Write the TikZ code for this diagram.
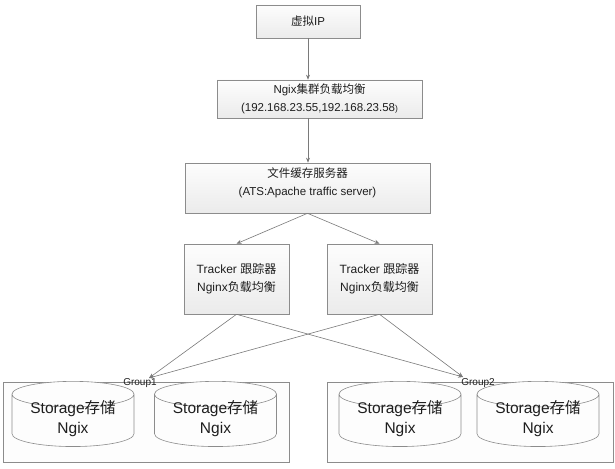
\documentclass[tikz,border=0pt]{standalone}
\usepackage{fontspec}
\setmainfont{Liberation Sans}
\newfontfamily\cjk{Noto Sans CJK SC}
\usetikzlibrary{positioning,arrows.meta,shapes.geometric}
\definecolor{edge}{HTML}{8C8C8C}
\definecolor{wire}{HTML}{7A7A7A}
\definecolor{hi}{HTML}{FDFDFD}
\definecolor{lo}{HTML}{EBEBEB}
\definecolor{ink}{HTML}{1E1E1E}

\begin{document}
\begin{tikzpicture}[
  x=1pt,y=-1pt,
  box/.style={draw=edge,line width=0.6pt,top color=hi,bottom color=lo,
              align=center,text=ink,font=\fontsize{11.5}{18}\selectfont,inner sep=0pt},
  grp/.style={draw=edge,line width=0.6pt,fill=hi,minimum width=286pt,minimum height=80pt,inner sep=0pt},
  glbl/.style={font=\fontsize{10}{12}\selectfont,text=ink,inner sep=1pt},
  store/.style={cylinder,shape border rotate=90,aspect=0.3,draw=edge,line width=0.6pt,
                fill=hi,minimum width=122pt,minimum height=55pt,inner sep=0pt,
                text height=26.5pt,text depth=-26.5pt,
                align=center,text=ink,font=\fontsize{15.5}{20}\selectfont},
  ar/.style={-{Stealth[length=5pt,width=4pt]},draw=wire,line width=0.6pt}
]
\useasboundingbox (0,0) rectangle (615,468);

\node[box,minimum width=104pt,minimum height=33pt] (vip) at (308,21.5) {{\cjk 虚拟}IP};
\node[box,minimum width=205pt,minimum height=38pt] (lb) at (319.5,99)
  {Ngix{\cjk 集群负载均衡}\\(192.168.23.55,192.168.23.58{\fontsize{8.5}{10}\selectfont)}};
\node[box,minimum width=245pt,minimum height=50pt] (ats) at (307.5,188)
  {{\cjk 文件缓存服务器}\\(ATS:Apache traffic server)\\[-6pt]};
\node[box,minimum width=105pt,minimum height=70pt,font=\fontsize{12}{18}\selectfont] (trk1) at (236.5,279)
  {Tracker {\cjk 跟踪器}\\Nginx{\cjk 负载均衡}};
\node[box,minimum width=105pt,minimum height=70pt,font=\fontsize{12}{18}\selectfont] (trk2) at (379.5,279)
  {Tracker {\cjk 跟踪器}\\Nginx{\cjk 负载均衡}};

% storage groups
\node[grp] (g1) at (146,422) {};
\node[grp] (g2) at (470,422) {};
\node[store] (s11) at (73,420.5) {Storage{\cjk 存储}\\Ngix};
\node[store] (s12) at (215.5,420.5) {Storage{\cjk 存储}\\Ngix};
\node[store] (s21) at (400,420.5) {Storage{\cjk 存储}\\Ngix};
\node[store] (s22) at (538,420.5) {Storage{\cjk 存储}\\Ngix};
\node[glbl] (g1lbl) at (140,383) {Group1};
\node[glbl] (g2lbl) at (478,383) {Group2};
\coordinate (g1in) at (149,378);
\coordinate (g2in) at (463,377);

\draw[ar] (vip.south) -- (vip.south |- lb.north);
\draw[ar] (vip.south |- lb.south) -- (vip.south |- ats.north);
\draw[ar] (ats.south) -- (trk1.north);
\draw[ar] (ats.south) -- (trk2.north);

\draw[ar] (trk1.south) -- (g1in);
\draw[ar] (trk1.south) -- (g2in);
\draw[ar] (trk2.south) -- (g1in);
\draw[ar] (trk2.south) -- (g2in);
\end{tikzpicture}
\end{document}
